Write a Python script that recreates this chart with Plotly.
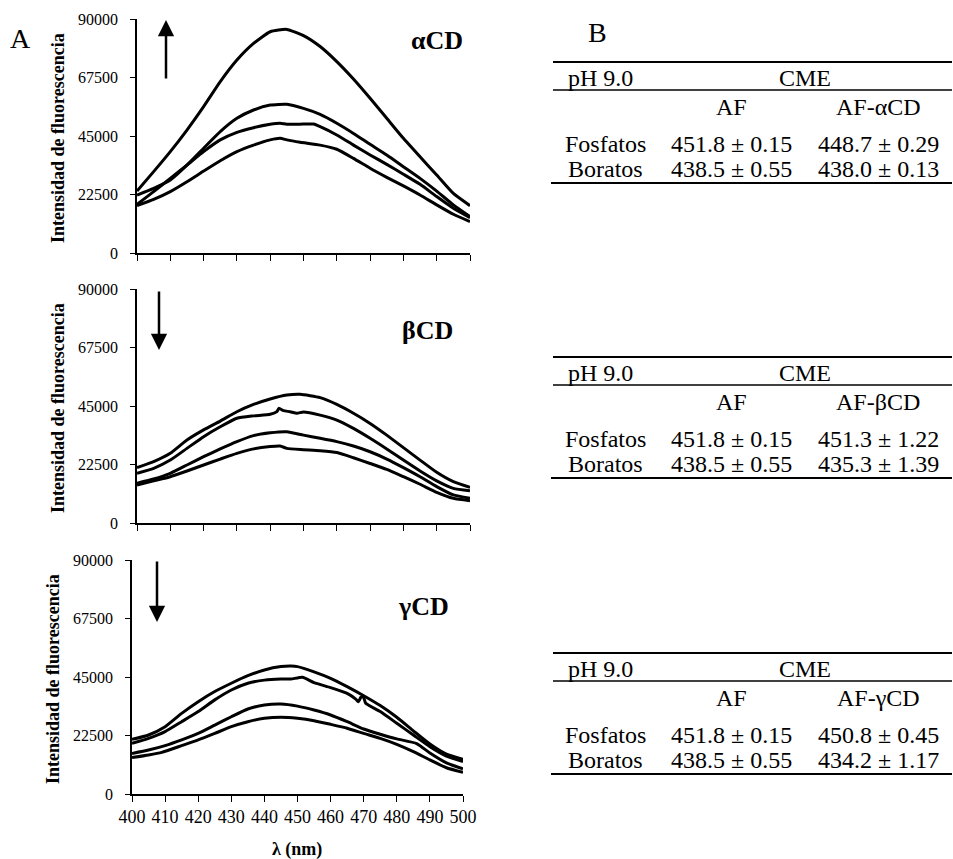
import plotly.graph_objects as go

W, H = 953, 859

# ---------------- data ----------------
ytick_vals = [0, 22500, 45000, 67500, 90000]
ytick_text = ["0", "22500", "45000", "67500", "90000"]
xtick_vals = [400, 410, 420, 430, 440, 450, 460, 470, 480, 490, 500]

wl = [400, 405, 410, 415, 420, 425, 430, 435, 440, 445, 450, 455, 460, 465, 470, 475, 480, 485, 490, 495, 500]

# alpha-CD panel
a1_x = wl
a1_y = [23800, 31300, 39000, 47300, 56300, 65900, 74200, 80600, 85100, 86000, 83600, 79400, 73600, 66900, 59500, 51800, 44100, 37000, 30000, 22900, 18200]
a2_x = wl
a2_y = [22300, 24900, 28100, 33800, 40300, 46700, 51800, 55000, 56900, 57200, 55600, 53300, 49900, 46000, 41800, 37700, 33200, 28700, 23800, 18500, 14000]
a3_x = [400, 405, 410, 415, 420, 425, 430, 435, 440, 443, 445, 450, 453, 455, 460, 465, 470, 475, 480, 485, 490, 495, 500]
a3_y = [18700, 23600, 28700, 33800, 39000, 43500, 46400, 48200, 49500, 49900, 49500, 49600, 49600, 48600, 45400, 41500, 37700, 34100, 30300, 26400, 21700, 17200, 13600]
a4_x = [400, 405, 410, 415, 420, 425, 430, 435, 440, 443, 445, 449, 455, 460, 465, 470, 475, 480, 485, 490, 495, 500]
a4_y = [18200, 20600, 23600, 27400, 31500, 35500, 39000, 41500, 43500, 44100, 43500, 42600, 41500, 39900, 36400, 32600, 29100, 25800, 22300, 18500, 14900, 12100]

# beta-CD panel
b1_x = [400, 405, 410, 415, 420, 425, 430, 435, 440, 445, 449, 455, 460, 465, 470, 475, 480, 485, 490, 495, 500]
b1_y = [21300, 23600, 26800, 31900, 35800, 39200, 42800, 45600, 47700, 49200, 49500, 48200, 45600, 42200, 38300, 33800, 29000, 24200, 19500, 15900, 13700]
b2_x = [400, 405, 410, 415, 420, 425, 430, 435, 440, 442, 442.6, 444, 446, 448, 450, 455, 460, 465, 470, 475, 480, 485, 490, 495, 500]
b2_y = [19100, 21000, 24200, 28700, 33200, 37000, 40300, 41200, 41800, 42800, 44100, 43200, 42800, 42200, 42700, 41500, 39600, 36400, 32600, 28500, 24200, 20000, 16200, 13300, 12400]
b3_x = [400, 405, 410, 415, 420, 425, 430, 435, 440, 445, 450, 455, 460, 465, 470, 475, 480, 485, 490, 495, 500]
b3_y = [15300, 16900, 19100, 22300, 25500, 28500, 31300, 33600, 34700, 35100, 33800, 32600, 31300, 29600, 27400, 24600, 21300, 17800, 14000, 10800, 9500]
b4_x = [400, 405, 410, 415, 420, 425, 430, 435, 440, 443, 445, 450, 455, 460, 465, 470, 475, 480, 485, 490, 495, 500]
b4_y = [14600, 16200, 17800, 20000, 22300, 24600, 26800, 28500, 29400, 29600, 28700, 28200, 27800, 27100, 25100, 22900, 20600, 17800, 14900, 11800, 9500, 8600]

# gamma-CD panel
g1_x = [400, 405, 410, 415, 420, 425, 430, 435, 440, 445, 448, 450, 455, 460, 465, 470, 475, 480, 485, 490, 495, 500]
g1_y = [21000, 22700, 25900, 31000, 35500, 39400, 42600, 45500, 47700, 49000, 49200, 49000, 47000, 44500, 41300, 37800, 34000, 29500, 24300, 19200, 15300, 13300]
g2_x = [400, 405, 410, 415, 420, 425, 430, 435, 440, 445, 448, 451.5, 455, 460, 465, 467.6, 468.4, 469.1, 469.9, 470.6, 475, 480, 485, 490, 495, 500]
g2_y = [19500, 21400, 24000, 27800, 31700, 36200, 40000, 42600, 43800, 44200, 44200, 44900, 42800, 40900, 38700, 36500, 35500, 37100, 37400, 34900, 31700, 27200, 22700, 18200, 14600, 12500]
g3_x = [400, 405, 410, 415, 420, 425, 430, 435, 440, 445, 450, 455, 460, 465, 470, 475, 480, 486, 490, 495, 500]
g3_y = [15600, 16900, 18600, 20800, 23300, 26500, 29700, 32700, 34200, 34600, 33800, 32300, 30400, 27800, 25000, 23000, 21200, 19400, 15800, 12000, 9700]
g4_x = [400, 405, 409, 415, 420, 425, 430, 435, 440, 445, 450, 455, 460, 465, 470, 475, 480, 485, 490, 495, 500]
g4_y = [14000, 15000, 16000, 18600, 20800, 23300, 25900, 27800, 29100, 29500, 29100, 28200, 26800, 25300, 23300, 21400, 19100, 16300, 13100, 10100, 8300]

panel_labels = ["αCD", "βCD", "γCD"]

# tables
table_header = ["pH 9.0", "CME"]
table_cols = [["AF", "AF-αCD"], ["AF", "AF-βCD"], ["AF", "AF-γCD"]]
row_labels = ["Fosfatos", "Boratos"]
table_af = ["451.8 ± 0.15", "438.5 ± 0.55"]
table_cd = [["448.7 ± 0.29", "438.0 ± 0.13"],
            ["451.3 ± 1.22", "435.3 ± 1.39"],
            ["450.8 ± 0.45", "434.2 ± 1.17"]]

# ---------------- layout helpers ----------------
def px(x):
    return x / W

def py(y):
    return 1 - y / H

panels = [
    dict(x0=137, x1=470, y0=19, y1=253),
    dict(x0=137, x1=470, y0=289, y1=523),
    dict(x0=132, x1=463, y0=560, y1=794),
]
series = [
    [(a1_x, a1_y), (a2_x, a2_y), (a3_x, a3_y), (a4_x, a4_y)],
    [(b1_x, b1_y), (b2_x, b2_y), (b3_x, b3_y), (b4_x, b4_y)],
    [(g1_x, g1_y), (g2_x, g2_y), (g3_x, g3_y), (g4_x, g4_y)],
]

serif = "Liberation Serif, Times New Roman, serif"
fig = go.Figure()
layout = dict(
    width=W, height=H,
    margin=dict(l=0, r=0, t=0, b=0, autoexpand=False),
    paper_bgcolor="white", plot_bgcolor="white",
    showlegend=False,
    font=dict(family=serif, color="black"),
)
annotations = []
shapes = []


def text_at(x, y, txt, size, angle=0):
    annotations.append(dict(
        x=px(x), y=py(y), xref="paper", yref="paper", text=txt,
        textangle=angle, showarrow=False, xanchor="center", yanchor="middle",
        font=dict(family=serif, size=size, color="black")))


for i, (p, ser) in enumerate(zip(panels, series)):
    n = "" if i == 0 else str(i + 1)
    for xs, ys in ser:
        fig.add_trace(go.Scatter(
            x=xs, y=ys, mode="lines",
            line=dict(color="black", width=3, shape="spline", smoothing=0.5),
            xaxis="x" + n, yaxis="y" + n, hoverinfo="skip"))
    layout["xaxis" + n] = dict(
        domain=[px(p["x0"]), px(p["x1"])], anchor="y" + n,
        range=[400, 500], tickvals=xtick_vals, automargin=False,
        showticklabels=(i == 2), ticks="outside", ticklen=6, tickwidth=1.3,
        tickcolor="black", showline=True, linecolor="black", linewidth=1.5,
        showgrid=False, zeroline=False,
        tickfont=dict(family=serif, size=18, color="black"))
    layout["yaxis" + n] = dict(
        domain=[py(p["y1"]), py(p["y0"])], anchor="x" + n,
        range=[0, 90000], tickvals=ytick_vals, ticktext=ytick_text,
        automargin=False, ticklabelstandoff=9,
        ticks="outside", ticklen=5, tickwidth=1.3, tickcolor="black",
        showline=True, linecolor="black", linewidth=1.5,
        showgrid=False, zeroline=False,
        tickfont=dict(family=serif, size=16, color="black"))
    # y title
    text_at(p["x0"] - 79, (p["y0"] + p["y1"]) / 2 + 2,
            "<b>Intensidad de fluorescencia</b>", 18, angle=-90)
    # panel label
    lab_pos = [(437, 40), (427, 331), (423, 606)][i]
    text_at(lab_pos[0], lab_pos[1], "<b>" + panel_labels[i] + "</b>", 26)

# arrows
arrows = [((166, 20), (166, 80)), ((159, 350), (159, 290)), ((157, 622), (157, 560))]
for tip, tail in arrows:
    annotations.append(dict(
        x=px(tip[0]), y=py(tip[1]), xref="paper", yref="paper",
        ax=tail[0] - tip[0], ay=tail[1] - tip[1], axref="pixel", ayref="pixel",
        text="", showarrow=True, arrowhead=2, arrowsize=1.3, arrowwidth=2.5,
        arrowcolor="black"))

# x title, A / B
text_at(297, 849, "<b>λ (nm)</b>", 18)
text_at(20, 38, "A", 28)
text_at(597, 32, "B", 28)

# tables
tops = [62, 357, 653]
for t, top in enumerate(tops):
    shapes.append(dict(type="line", xref="paper", yref="paper",
                       x0=px(553), x1=px(952), y0=py(top), y1=py(top),
                       line=dict(color="black", width=2)))
    shapes.append(dict(type="line", xref="paper", yref="paper",
                       x0=px(553), x1=px(952), y0=py(top + 28), y1=py(top + 28),
                       line=dict(color="black", width=1.5)))
    shapes.append(dict(type="line", xref="paper", yref="paper",
                       x0=px(551), x1=px(952), y0=py(top + 121), y1=py(top + 121),
                       line=dict(color="black", width=2)))
    cells = [
        (600, top + 16, table_header[0]),
        (805, top + 16, table_header[1]),
        (731, top + 45, table_cols[t][0]),
        (878, top + 45, table_cols[t][1]),
        (605, top + 82, row_labels[0]),
        (731, top + 82, table_af[0]),
        (878, top + 82, table_cd[t][0]),
        (605, top + 107, row_labels[1]),
        (731, top + 107, table_af[1]),
        (878, top + 107, table_cd[t][1]),
    ]
    for cx, cy, txt in cells:
        text_at(cx, cy, txt, 24)

layout["annotations"] = annotations
layout["shapes"] = shapes
fig.update_layout(**layout)
fig.write_html("out.html")
